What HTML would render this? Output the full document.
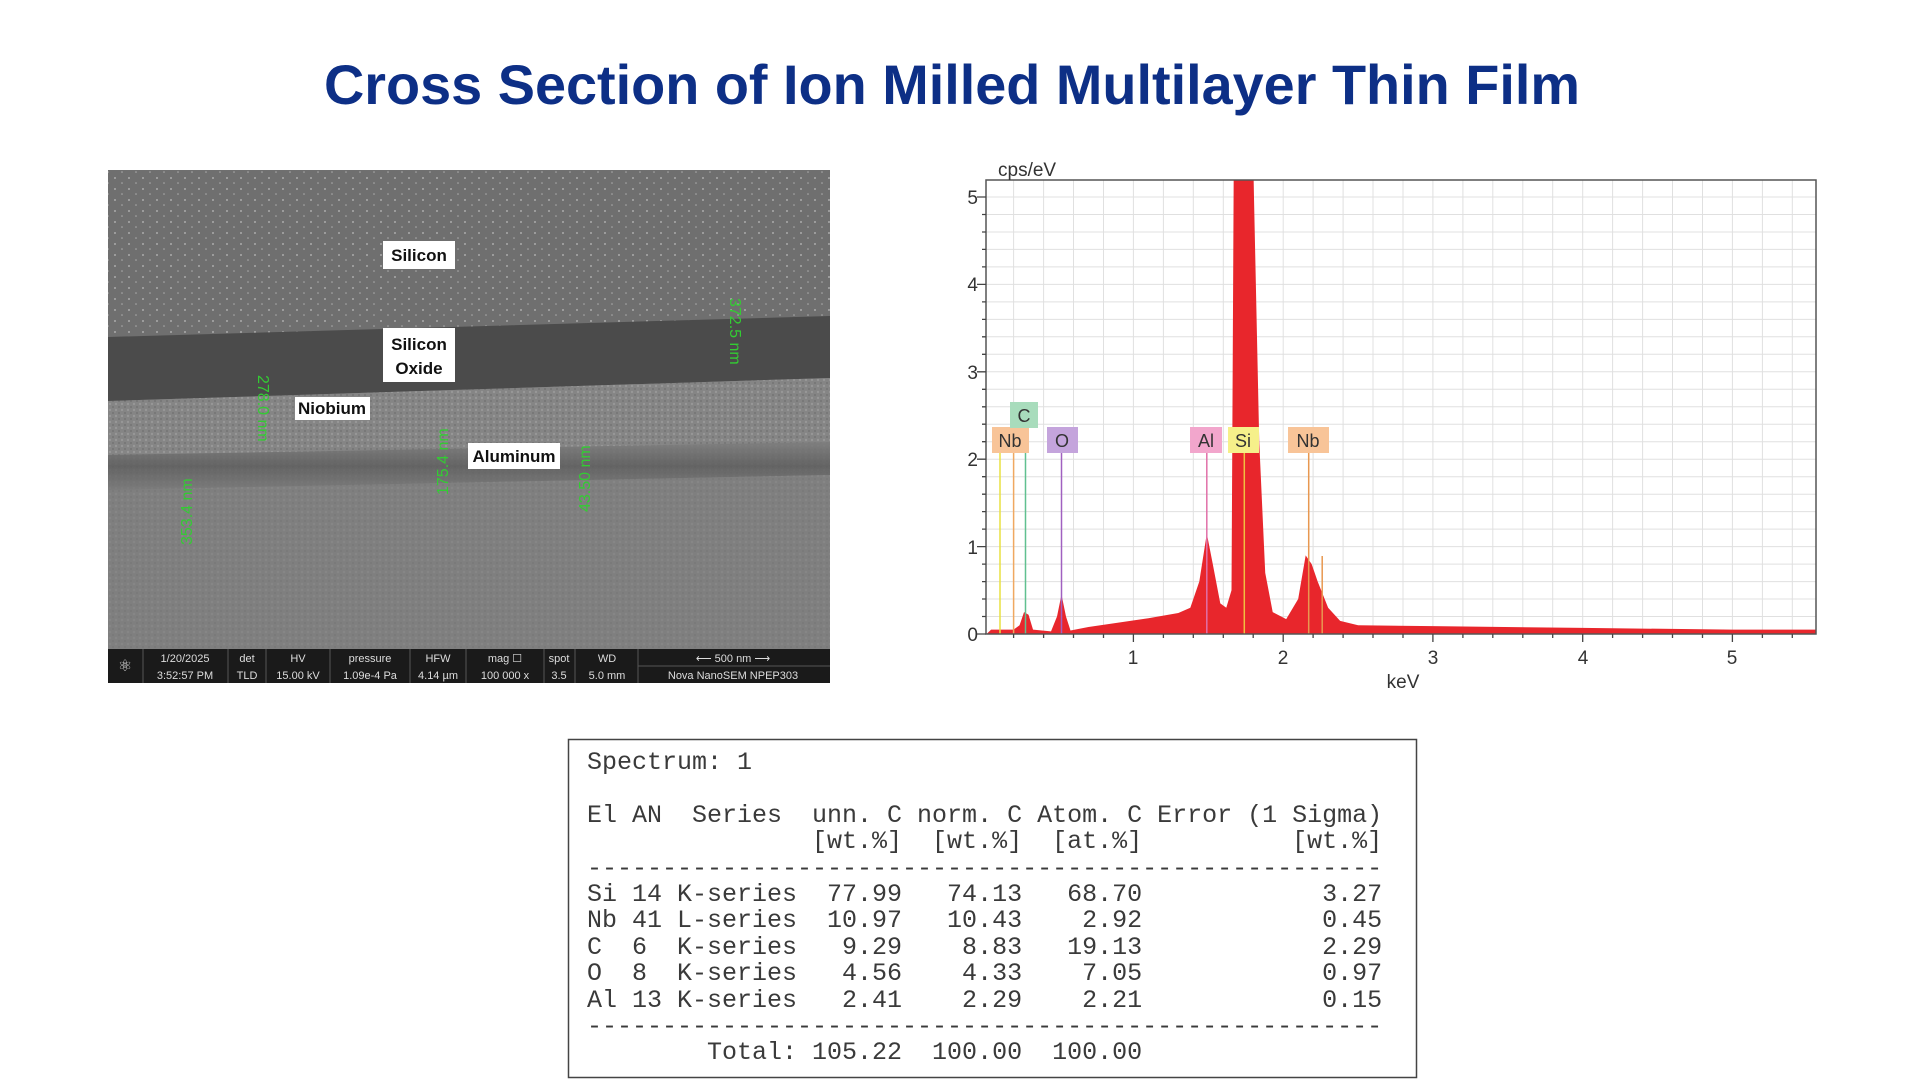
<!DOCTYPE html>
<html><head><meta charset="utf-8"><style>
html,body{margin:0;padding:0;background:#fff;width:1920px;height:1080px;overflow:hidden;font-family:"Liberation Sans",sans-serif}
pre{position:absolute;left:587px;top:750px;margin:0;font-family:"Liberation Mono",monospace;font-size:25px;line-height:26.4px;color:#3a3a3a}
</style></head><body>
<svg width="1920" height="1080" style="position:absolute;left:0;top:0" xmlns="http://www.w3.org/2000/svg">
<defs>
<pattern id="dots" width="14" height="11" patternUnits="userSpaceOnUse">
<circle cx="3" cy="2" r="0.9" fill="#bbb"/><circle cx="10" cy="7" r="0.8" fill="#aaa"/>
</pattern>
<pattern id="grain" width="6" height="6" patternUnits="userSpaceOnUse">
<rect width="6" height="6" fill="#858585"/><circle cx="2" cy="2" r="1.2" fill="#979797"/><circle cx="5" cy="5" r="1" fill="#737373"/>
</pattern>
<linearGradient id="algrad" x1="0" y1="0" x2="0" y2="1">
<stop offset="0" stop-color="#7e7e7e"/><stop offset="0.5" stop-color="#5e5e5e"/><stop offset="1" stop-color="#7a7a7a"/>
</linearGradient>
<clipPath id="pc"><rect x="986" y="180" width="830" height="454"/></clipPath>
</defs>
<text x="952" y="104" text-anchor="middle" font-family="Liberation Sans" font-weight="bold" font-size="56" fill="#0d2f86" textLength="1256" lengthAdjust="spacingAndGlyphs">Cross Section of Ion Milled Multilayer Thin Film</text>

<!-- SEM -->
<rect x="108" y="170" width="722" height="480" fill="#6f6f6f"/>
<rect x="108" y="170" width="722" height="165" fill="url(#dots)"/>
<polygon points="108,337 830,316 830,378 108,401" fill="#4b4b4b"/>
<polygon points="108,401 830,378 830,650 108,650" fill="url(#grain)"/>
<polygon points="108,455 830,442 830,475 108,490" fill="url(#algrad)" opacity="0.85"/>
<polygon points="108,490 830,475 830,650 108,650" fill="#7c7c7c" opacity="0.6"/>
<g font-weight="bold" font-size="17" fill="#111" text-anchor="middle">
<rect x="383" y="241" width="72" height="28" fill="#fff"/><text x="419" y="261">Silicon</text>
<rect x="383" y="328" width="72" height="54" fill="#fff"/><text x="419" y="350">Silicon</text><text x="419" y="374">Oxide</text>
<rect x="295" y="397" width="75" height="23" fill="#fff"/><text x="332" y="414">Niobium</text>
<rect x="468" y="443" width="92" height="26" fill="#fff"/><text x="514" y="462">Aluminum</text>
</g>
<g fill="#3c3" font-size="16">
<text transform="translate(730,298) rotate(90)">372.5 nm</text>
<text transform="translate(258,375) rotate(90)">278.0 nm</text>
<text transform="translate(448,495) rotate(-90)">175.4 nm</text>
<text transform="translate(590,512) rotate(-90)">43.50 nm</text>
<text transform="translate(192,545) rotate(-90)">353.4 nm</text>
</g>
<rect x="108" y="649" width="722" height="34" fill="#1a1a1a"/>
<g fill="#ddd" font-size="11" text-anchor="middle">
<text x="125" y="671" font-size="16">⚛</text>
<text x="185" y="662">1/20/2025</text><text x="185" y="679">3:52:57 PM</text>
<text x="247" y="662">det</text><text x="247" y="679">TLD</text>
<text x="298" y="662">HV</text><text x="298" y="679">15.00 kV</text>
<text x="370" y="662">pressure</text><text x="370" y="679">1.09e-4 Pa</text>
<text x="438" y="662">HFW</text><text x="438" y="679">4.14 µm</text>
<text x="505" y="662">mag ☐</text><text x="505" y="679">100 000 x</text>
<text x="559" y="662">spot</text><text x="559" y="679">3.5</text>
<text x="607" y="662">WD</text><text x="607" y="679">5.0 mm</text>
<text x="733" y="662">⟵ 500 nm ⟶</text><text x="733" y="679">Nova NanoSEM  NPEP303</text>
</g>
<g stroke="#555" stroke-width="1"><line x1="143" y1="649" x2="143" y2="683"/><line x1="228" y1="649" x2="228" y2="683"/><line x1="266" y1="649" x2="266" y2="683"/><line x1="330" y1="649" x2="330" y2="683"/><line x1="410" y1="649" x2="410" y2="683"/><line x1="466" y1="649" x2="466" y2="683"/><line x1="544" y1="649" x2="544" y2="683"/><line x1="575" y1="649" x2="575" y2="683"/><line x1="638" y1="649" x2="638" y2="683"/><line x1="638" y1="666" x2="830" y2="666"/></g>

<!-- Spectrum -->
<g stroke="#e0e0e0" stroke-width="1">
<path d="M1013.6 180V634M1043.6 180V634M1073.5 180V634M1103.5 180V634M1133.4 180V634M1163.4 180V634M1193.3 180V634M1223.3 180V634M1253.2 180V634M1283.2 180V634M1313.1 180V634M1343.1 180V634M1373 180V634M1403 180V634M1432.9 180V634M1462.9 180V634M1492.8 180V634M1522.8 180V634M1552.7 180V634M1582.7 180V634M1612.6 180V634M1642.6 180V634M1672.5 180V634M1702.5 180V634M1732.4 180V634M1762.4 180V634M1792.3 180V634"/>
<path d="M986 616.5H1816M986 599H1816M986 581.6H1816M986 564.1H1816M986 546.6H1816M986 529.1H1816M986 511.6H1816M986 494.2H1816M986 476.7H1816M986 459.2H1816M986 441.7H1816M986 424.2H1816M986 406.8H1816M986 389.3H1816M986 371.8H1816M986 354.3H1816M986 336.8H1816M986 319.4H1816M986 301.9H1816M986 284.4H1816M986 266.9H1816M986 249.4H1816M986 232H1816M986 214.5H1816M986 197H1816"/>
</g>
<g clip-path="url(#pc)">
<g transform="translate(983.6,634) scale(149.8,-87.4)">
<polygon fill="#e8262c" points="0.02,0 0.05,0.05 0.2,0.05 0.24,0.1 0.27,0.25 0.3,0.22 0.33,0.05 0.45,0.03 0.49,0.2 0.52,0.45 0.55,0.2 0.58,0.04 0.7,0.08 0.9,0.13 1.1,0.18 1.3,0.24 1.38,0.3 1.44,0.6 1.49,1.15 1.53,0.8 1.58,0.35 1.62,0.3 1.655,0.5 1.67,5.4 1.8,5.4 1.84,2.2 1.88,0.7 1.93,0.25 2.02,0.17 2.1,0.4 2.15,0.9 2.19,0.8 2.23,0.6 2.3,0.3 2.38,0.15 2.5,0.1 3,0.09 4,0.07 5,0.05 5.6,0.05 5.6,0"/>
</g>
</g>
<g stroke-width="1.5">
<line x1="1000" y1="453" x2="1000" y2="634" stroke="#e8e040"/>
<line x1="1013.6" y1="453" x2="1013.6" y2="634" stroke="#f0a860"/>
<line x1="1025.5" y1="428" x2="1025.5" y2="634" stroke="#60c090"/>
<line x1="1061.5" y1="453" x2="1061.5" y2="634" stroke="#a060c0"/>
<line x1="1206.8" y1="453" x2="1206.8" y2="634" stroke="#e070a8"/>
<line x1="1244.3" y1="453" x2="1244.3" y2="634" stroke="#f0c040"/>
<line x1="1308.7" y1="453" x2="1308.7" y2="634" stroke="#e89850"/>
<line x1="1322.2" y1="556" x2="1322.2" y2="634" stroke="#e89850"/>
</g>
<g font-size="18" fill="#333" text-anchor="middle">
<rect x="992" y="427" width="37" height="26" fill="#f8c498"/><text x="1010" y="447">Nb</text>
<rect x="1010" y="402" width="28" height="26" fill="#a8dcbc"/><text x="1024" y="422">C</text>
<rect x="1047" y="427" width="31" height="26" fill="#c4a4dc"/><text x="1062" y="447">O</text>
<rect x="1190" y="427" width="32" height="26" fill="#f2a6cc"/><text x="1206" y="447">Al</text>
<rect x="1228" y="427" width="31" height="26" fill="#f6f08a"/><text x="1243" y="447">Si</text>
<rect x="1288" y="427" width="41" height="26" fill="#f8c498"/><text x="1308" y="447">Nb</text>
</g>
<rect x="986" y="180" width="830" height="454" fill="none" stroke="#555" stroke-width="1.5"/>
<g stroke="#444" stroke-width="1.3">
<path d="M986 634h-9M986 546.6h-9M986 459.2h-9M986 371.8h-9M986 284.4h-9M986 197h-9"/>
<path d="M986 616.5h-4M986 599h-4M986 581.6h-4M986 564.1h-4M986 529.1h-4M986 511.6h-4M986 494.2h-4M986 476.7h-4M986 441.7h-4M986 424.2h-4M986 406.8h-4M986 389.3h-4M986 354.3h-4M986 336.8h-4M986 319.4h-4M986 301.9h-4M986 266.9h-4M986 249.4h-4M986 232h-4M986 214.5h-4"/>
<path d="M1133.4 634v8M1283.2 634v8M1432.9 634v8M1582.7 634v8M1732.4 634v8"/>
<path d="M1013.6 634v4M1043.6 634v4M1073.5 634v4M1103.5 634v4M1163.4 634v4M1193.3 634v4M1223.3 634v4M1253.2 634v4M1313.1 634v4M1343.1 634v4M1373 634v4M1403 634v4M1462.9 634v4M1492.8 634v4M1522.8 634v4M1552.7 634v4M1612.6 634v4M1642.6 634v4M1672.5 634v4M1702.5 634v4M1762.4 634v4M1792.3 634v4"/>
</g>
<g font-size="19" fill="#333">
<g text-anchor="end"><text x="978" y="641">0</text><text x="978" y="554">1</text><text x="978" y="466">2</text><text x="978" y="379">3</text><text x="978" y="291">4</text><text x="978" y="204">5</text></g>
<g text-anchor="middle"><text x="1133" y="664">1</text><text x="1283" y="664">2</text><text x="1433" y="664">3</text><text x="1583" y="664">4</text><text x="1732" y="664">5</text>
<text x="1403" y="688">keV</text></g>
<text x="998" y="176">cps/eV</text>
</g>

<rect x="568.5" y="739.5" width="848" height="338" fill="none" stroke="#444" stroke-width="1.5"/>
</svg>
<pre>Spectrum: 1

El AN  Series  unn. C norm. C Atom. C Error (1 Sigma)
               [wt.%]  [wt.%]  [at.%]          [wt.%]
-----------------------------------------------------
Si 14 K-series  77.99   74.13   68.70            3.27
Nb 41 L-series  10.97   10.43    2.92            0.45
C  6  K-series   9.29    8.83   19.13            2.29
O  8  K-series   4.56    4.33    7.05            0.97
Al 13 K-series   2.41    2.29    2.21            0.15
-----------------------------------------------------
        Total: 105.22  100.00  100.00</pre>
</body></html>
